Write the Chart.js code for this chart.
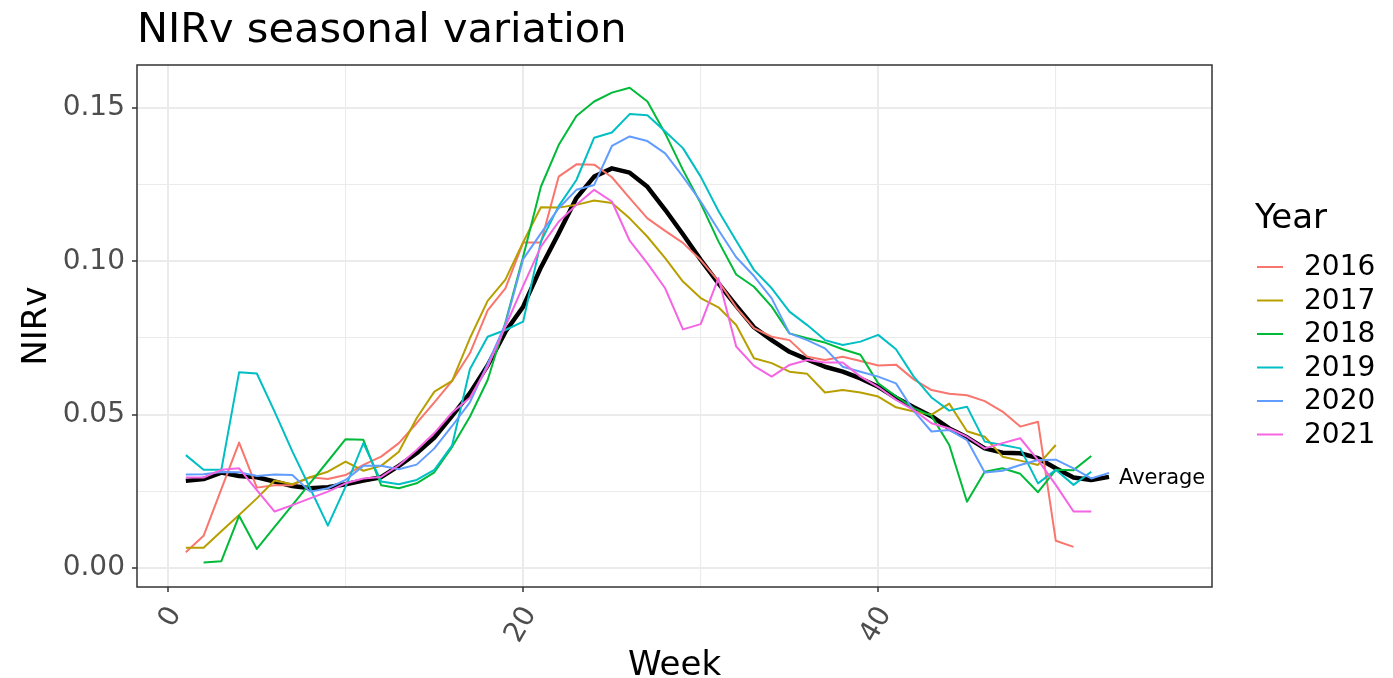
<!DOCTYPE html>
<html>
<head>
<meta charset="utf-8">
<script src="https://cdn.jsdelivr.net/npm/chart.js@4.4.1/dist/chart.umd.min.js"></script>
<style>
  html, body { margin: 0; padding: 0; background: #ffffff; }
  #wrap { width: 1393px; height: 678px; position: relative; }
</style>
</head>
<body>
<div id="wrap"><canvas id="chart"></canvas></div>
<script>
// Semaines et valeurs NIRv
const weeks = [1,2,3,4,5,6,7,8,9,10,11,12,13,14,15,16,17,18,19,20,21,22,23,24,25,26,27,
  28,29,30,31,32,33,34,35,36,37,38,39,40,41,42,43,44,45,46,47,48,49,50,51,52,53];

const years = ['2016', '2017', '2018', '2019', '2020', '2021'];
const yearColors = ['#F8766D', '#B79F00', '#00BA38', '#00BFC4', '#619CFF', '#F564E3'];

const nirv2016 = [0.0051,0.0105,0.0257,0.0409,0.0262,0.027,0.027,0.0296,0.029,0.0303,
  0.0336,0.0363,0.0407,0.0472,0.054,0.061,0.070,0.084,0.0912,0.1061,
  0.1061,0.1276,0.1316,0.1315,0.1274,0.1206,0.114,0.1099,0.106,0.1004,
  0.0935,0.085,0.0782,0.0754,0.0743,0.0689,0.0678,0.0689,0.0675,0.066,
  0.0663,0.0615,0.058,0.0568,0.0563,0.0544,0.051,0.0461,0.0477,0.0089,
  0.0069,null,null];
const nirv2017 = [0.0066,0.0066,0.012,0.0173,0.0227,0.0285,0.0273,0.0296,0.0314,0.0347,
  0.0317,0.0333,0.0379,0.0488,0.0575,0.061,0.0749,0.0871,0.094,0.1062,
  0.1176,0.1175,0.1184,0.1198,0.119,0.114,0.108,0.101,0.0934,0.088,
  0.085,0.0792,0.0684,0.0668,0.064,0.0633,0.0572,0.058,0.0572,0.0559,
  0.0524,0.051,0.05,0.0536,0.0446,0.0428,0.0363,0.035,0.0336,0.0401,
  null,null,null];
const nirv2018 = [null,0.0018,0.0022,0.017,0.0062,0.0134,0.0205,0.0277,0.0348,0.042,
  0.0418,0.027,0.026,0.0276,0.0312,0.0395,0.0493,0.0613,0.080,0.1015,
  0.1243,0.1379,0.1474,0.1521,0.155,0.1566,0.1521,0.1417,0.1298,0.1189,
  0.1065,0.0957,0.0917,0.0852,0.0765,0.0749,0.0735,0.0713,0.0695,0.0602,
  0.056,0.0521,0.0496,0.0401,0.0216,0.0314,0.0325,0.0307,0.0247,0.032,
  0.0319,0.0365,null];
const nirv2019 = [0.0368,0.032,0.032,0.0638,0.0634,0.051,0.038,0.026,0.0138,0.0265,
  0.0407,0.0282,0.0273,0.0287,0.032,0.040,0.0648,0.0754,0.0776,0.0803,
  0.1064,0.118,0.1265,0.1403,0.142,0.148,0.1476,0.1423,0.1369,0.1276,
  0.1164,0.1067,0.0972,0.0912,0.0836,0.0792,0.0743,0.0727,0.0738,0.076,
  0.0713,0.0624,0.0556,0.0513,0.0526,0.0412,0.0401,0.039,0.0276,0.032,
  0.0271,0.0314,null];
const nirv2020 = [0.0305,0.0306,0.0313,0.0312,0.03,0.0305,0.0303,0.0249,0.026,0.0287,
  0.0333,0.0333,0.0322,0.0337,0.039,0.0463,0.054,0.0665,0.0795,0.1007,
  0.1091,0.1173,0.1233,0.1249,0.1376,0.1407,0.1392,0.1352,0.1276,0.1195,
  0.1102,0.1013,0.0952,0.0879,0.0765,0.0743,0.0716,0.0656,0.064,0.0624,
  0.0602,0.0512,0.0445,0.045,0.0417,0.0311,0.0317,0.0336,0.0352,0.0353,
  0.0325,0.0292,0.031];
const nirv2021 = [0.0295,0.0295,0.032,0.0325,0.0254,0.0184,0.0205,0.0227,0.0249,0.0276,
  0.0292,0.0297,0.0335,0.0385,0.044,0.0507,0.0555,0.0656,0.0787,0.092,
  0.1048,0.1129,0.1184,0.1233,0.1195,0.1067,0.0993,0.0912,0.0778,0.0795,
  0.0945,0.0722,0.0659,0.0624,0.0662,0.0678,0.067,0.067,0.0624,0.059,
  0.0548,0.0515,0.0472,0.0455,0.0428,0.039,0.0407,0.0423,0.0352,0.0271,
  0.0184,0.0184,null];
const nirvAverage = [0.0284,0.029,0.0311,0.030,0.0296,0.0282,0.0267,0.026,0.0263,0.0273,
  0.0285,0.0296,0.0333,0.0374,0.0425,0.0496,0.057,0.066,0.077,0.0852,
  0.098,0.1091,0.1206,0.1276,0.1303,0.1289,0.1243,0.1168,0.1088,0.1005,
  0.0928,0.0855,0.0785,0.0743,0.0705,0.068,0.0656,0.064,0.0618,0.0591,
  0.0555,0.0524,0.0495,0.0455,0.0426,0.039,0.0376,0.0374,0.0358,0.0325,
  0.0295,0.0287,0.0297];

const yearSeries = [nirv2016, nirv2017, nirv2018, nirv2019, nirv2020, nirv2021];

// Ticks des axes (majeurs avec étiquette, mineurs sans)
const xTicks = [0, 10, 20, 30, 40, 50];
const xLabels = ['0', '', '20', '', '40', ''];
const yTicks = [0, 0.025, 0.05, 0.075, 0.1, 0.125, 0.15];
const yLabels = ['0.00', '', '0.05', '', '0.10', '', '0.15'];

const FONT = "'DejaVu Sans', 'Noto Sans', sans-serif";

function toPoints(values) {
    const pts = [];
    weeks.forEach((w, i) => {
        if (values[i] !== null) pts.push({ x: w, y: values[i] });
    });
    return pts;
}

const datasets = yearSeries.map((vals, i) => ({
    label: years[i],
    data: toPoints(vals),
    borderColor: yearColors[i],
    borderWidth: 2,
    pointRadius: 0,
    tension: 0,
    borderJoinStyle: 'round',
    order: 6 - i
}));

datasets.push({
    label: 'Average',
    data: toPoints(nirvAverage),
    borderColor: '#000000',
    borderWidth: 4.5,
    pointRadius: 0,
    tension: 0,
    borderJoinStyle: 'round',
    order: 10
});

function isMajor(list, labels, value) {
    const idx = list.findIndex(v => Math.abs(v - value) < 1e-9);
    return idx >= 0 && labels[idx] !== '';
}

// Plugin pour le titre, les titres d'axes, la légende, le cadre et l'étiquette "Average"
const decorPlugin = {
    id: 'decor',
    afterDraw(chart) {
        const ctx = chart.ctx;
        const area = chart.chartArea;
        const xs = chart.scales.x;
        const ys = chart.scales.y;
        ctx.save();

        // cadre du panneau
        ctx.strokeStyle = '#333333';
        ctx.lineWidth = 1.5;
        ctx.strokeRect(area.left, area.top, area.right - area.left, area.bottom - area.top);

        // titre
        ctx.fillStyle = '#000000';
        ctx.font = '41.5px ' + FONT;
        ctx.textAlign = 'left';
        ctx.textBaseline = 'alphabetic';
        ctx.fillText('NIRv seasonal variation', 137, 42);

        // titre axe x
        ctx.font = '34px ' + FONT;
        ctx.textAlign = 'center';
        ctx.fillText('Week', (area.left + area.right) / 2, 675);

        // titre axe y
        ctx.save();
        ctx.translate(37, (area.top + area.bottom) / 2);
        ctx.rotate(-Math.PI / 2);
        ctx.textBaseline = 'middle';
        ctx.fillText('NIRv', 0, 0);
        ctx.restore();

        // étiquette Average au bout de la courbe moyenne
        const lastAvg = nirvAverage[nirvAverage.length - 1];
        ctx.font = '21px ' + FONT;
        ctx.textAlign = 'left';
        ctx.textBaseline = 'middle';
        ctx.fillText('Average', xs.getPixelForValue(weeks[weeks.length - 1]) + 10, ys.getPixelForValue(lastAvg) + 2);

        // légende
        ctx.font = '34px ' + FONT;
        ctx.textBaseline = 'alphabetic';
        ctx.fillText('Year', 1255, 228);
        ctx.font = '28px ' + FONT;
        ctx.textBaseline = 'middle';
        years.forEach((yr, i) => {
            const y = 267 + i * 33.5;
            ctx.strokeStyle = yearColors[i];
            ctx.lineWidth = 2;
            ctx.beginPath();
            ctx.moveTo(1257, y);
            ctx.lineTo(1283, y);
            ctx.stroke();
            ctx.fillStyle = '#000000';
            ctx.fillText(yr, 1304, y + 1);
        });

        ctx.restore();
    }
};

const ctx = document.getElementById('chart').getContext('2d');
new Chart(ctx, {
    type: 'line',
    data: { datasets },
    options: {
        responsive: true,
        maintainAspectRatio: false,
        animation: false,
        layout: { padding: { left: 0, top: 65, right: 181, bottom: 0 } },
        plugins: {
            legend: { display: false },
            title: { display: false },
            tooltip: { enabled: false }
        },
        scales: {
            x: {
                type: 'linear',
                min: -1.75,
                max: 58.8,
                afterBuildTicks: (scale) => { scale.ticks = xTicks.map(v => ({ value: v })); },
                afterFit: (scale) => { scale.height = 91; },
                border: { display: false },
                grid: {
                    color: '#EBEBEB',
                    lineWidth: (c) => isMajor(xTicks, xLabels, c.tick.value) ? 2 : 1.1,
                    tickLength: 5,
                    tickColor: (c) => isMajor(xTicks, xLabels, c.tick.value) ? '#333333' : 'rgba(0,0,0,0)',
                    tickWidth: 1.5
                },
                ticks: {
                    autoSkip: false,
                    minRotation: 60,
                    maxRotation: 60,
                    padding: 9,
                    labelOffset: 7,
                    color: '#4D4D4D',
                    font: { family: FONT, size: 28 },
                    callback: (value) => {
                        const idx = xTicks.indexOf(value);
                        return idx >= 0 ? xLabels[idx] : '';
                    }
                }
            },
            y: {
                type: 'linear',
                min: -0.0062,
                max: 0.164,
                afterBuildTicks: (scale) => { scale.ticks = yTicks.map(v => ({ value: v })); },
                afterFit: (scale) => { scale.width = 137; },
                border: { display: false },
                grid: {
                    color: '#EBEBEB',
                    lineWidth: (c) => isMajor(yTicks, yLabels, c.tick.value) ? 2 : 1.1,
                    tickLength: 5,
                    tickColor: (c) => isMajor(yTicks, yLabels, c.tick.value) ? '#333333' : 'rgba(0,0,0,0)',
                    tickWidth: 1.5
                },
                ticks: {
                    autoSkip: false,
                    padding: 7,
                    color: '#4D4D4D',
                    font: { family: FONT, size: 28 },
                    callback: (value) => {
                        const idx = yTicks.findIndex(v => Math.abs(v - value) < 1e-9);
                        return idx >= 0 ? yLabels[idx] : '';
                    }
                }
            }
        }
    },
    plugins: [decorPlugin]
});
</script>
</body>
</html>
